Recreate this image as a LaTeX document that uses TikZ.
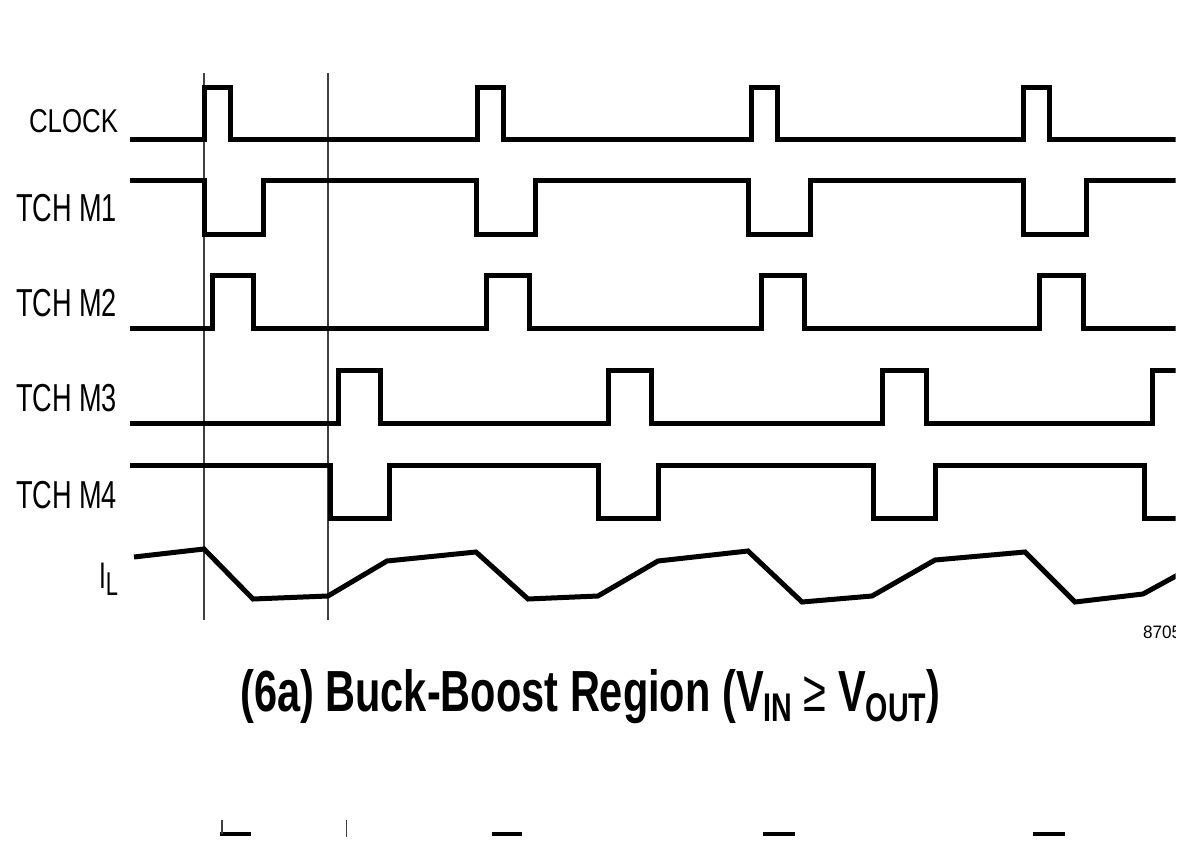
\documentclass[tikz,border=0pt]{standalone}
\usepackage{fontspec}
\setmainfont{Liberation Sans}
\usepackage{graphicx}
\tikzset{
  wave/.style={line width=5pt, line cap=butt, line join=miter},
  guide/.style={line width=1.3pt, draw=black!75},
  frag/.style={line width=4.5pt, line cap=butt},
  lbl/.style={anchor=base east, inner sep=0pt, outer sep=0pt},
}
\newcommand{\cond}[2]{\resizebox{#1}{\height}{#2}}
\begin{document}
\begin{tikzpicture}[x=1pt,y=-1pt]
\useasboundingbox (0,0) rectangle (1190,853);
\begin{scope}
\clip (0,0) rectangle (1175.5,853);
% guide lines
\draw[guide] (204,73) -- (204,620);
\draw[guide] (328,73) -- (328,620);
% CLOCK
\draw[wave] (130,140) -- (204.5,140) -- (204.5,88) -- (230,88) -- (230,140) -- (477,140) -- (477,88) -- (503,88) -- (503,140) -- (751,140) -- (751,88) -- (777,88) -- (777,140) -- (1023,140) -- (1023,88) -- (1049,88) -- (1049,140) -- (1180,140);
% TCH M1
\draw[wave] (130,181) -- (204.5,181) -- (204.5,234) -- (263,234) -- (263,181) -- (476,181) -- (476,234) -- (535,234) -- (535,181) -- (748,181) -- (748,234) -- (810,234) -- (810,181) -- (1023,181) -- (1023,234) -- (1086,234) -- (1086,181) -- (1180,181);
% TCH M2
\draw[wave] (130,328) -- (212,328) -- (212,275.5) -- (253.5,275.5) -- (253.5,328) -- (486,328) -- (486,275.5) -- (529,275.5) -- (529,328) -- (761,328) -- (761,275.5) -- (804,275.5) -- (804,328) -- (1039,328) -- (1039,275.5) -- (1083,275.5) -- (1083,328) -- (1180,328);
% TCH M3
\draw[wave] (130,423) -- (338.5,423) -- (338.5,370) -- (380,370) -- (380,423) -- (608,423) -- (608,370) -- (651,370) -- (651,423) -- (882,423) -- (882,370) -- (926,370) -- (926,423) -- (1152,423) -- (1152,370) -- (1180,370);
% TCH M4
\draw[wave] (130,465) -- (330.5,465) -- (330.5,518) -- (389,518) -- (389,465) -- (598,465) -- (598,518) -- (658,518) -- (658,465) -- (873,465) -- (873,518) -- (935,518) -- (935,465) -- (1144,465) -- (1144,518) -- (1180,518);
% I_L
\draw[wave] (134,557) -- (204,549) -- (253,599) -- (328,596) -- (387,561) -- (476,552) -- (528,599) -- (598,596) -- (658,561) -- (748,551) -- (802,602) -- (872,596) -- (935,560) -- (1025,552) -- (1075,602) -- (1143,594) -- (1185,571);
% figure number (cropped)
\node[anchor=base west, inner sep=0pt] (fignum) at (1143,638) {\cond{38pt}{\fontsize{18}{18}\selectfont 8705}};
% fragments of the next figure
\draw[frag] (220,834) -- (251,834);
\draw[guide] (222,820) -- (222,834);
\draw[guide] (346.5,820) -- (346.5,837);
\draw[frag] (492,834) -- (522,834);
\draw[frag] (763,834) -- (795,834);
\draw[frag] (1033,834) -- (1065,834);
\end{scope}
% labels
\node[lbl] (clk) at (118,133) {\cond{89pt}{\fontsize{33}{33}\selectfont CLOCK}};
\node[lbl] (m1) at (117,221) {\cond{101pt}{\fontsize{39}{39}\selectfont TCH M1}};
\node[lbl] (m2) at (117,316) {\cond{101pt}{\fontsize{39}{39}\selectfont TCH M2}};
\node[lbl] (m3) at (117,411) {\cond{101pt}{\fontsize{39}{39}\selectfont TCH M3}};
\node[lbl] (m4) at (117,508) {\cond{101pt}{\fontsize{39}{39}\selectfont TCH M4}};
\node[lbl] (il) at (118,588) {\cond{19pt}{\fontsize{37}{37}\selectfont I\raisebox{-7pt}{\fontsize{33}{33}\selectfont L}}};
% title
\node[anchor=base west, inner sep=0pt] (title) at (240,711) {\cond{700pt}{\fontsize{58}{58}\selectfont\bfseries (6a) Buck-Boost Region (V\raisebox{-10pt}{\fontsize{40}{40}\selectfont IN} {\mdseries ≥} V\raisebox{-10pt}{\fontsize{40}{40}\selectfont OUT})}};
\end{tikzpicture}
\end{document}
